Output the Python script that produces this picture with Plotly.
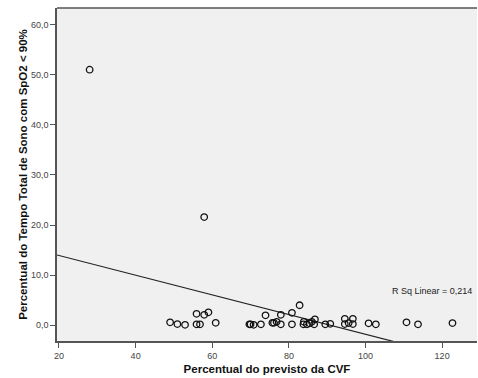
import numpy as np
import plotly.graph_objects as go

# Percent of predicted FVC (x) vs percent of total sleep time with SpO2 < 90% (y)
cvf_pct = [28.0, 49.0, 50.9, 52.9, 55.9, 55.9, 56.8, 57.9, 57.9, 59.0,
           60.9, 69.7, 70.0, 70.8, 72.7, 73.9, 75.7, 76.1, 76.8, 77.9,
           77.9, 80.8, 80.8, 82.8, 83.8, 83.9, 84.7, 85.4, 86.0, 86.6,
           86.8, 89.5, 90.8, 94.6, 94.6, 95.6, 96.7, 96.7, 100.8, 102.7,
           110.7, 113.7, 122.7]
spo2_pct = [51.0, 0.6, 0.25, 0.1, 2.3, 0.2, 0.2, 2.1, 21.6, 2.6,
            0.5, 0.2, 0.2, 0.1, 0.2, 2.0, 0.5, 0.5, 0.7, 2.1,
            0.2, 0.2, 2.5, 4.0, 0.2, 0.7, 0.2, 0.4, 0.7, 0.2,
            1.2, 0.2, 0.3, 1.3, 0.25, 0.45, 1.3, 0.25, 0.4, 0.2,
            0.6, 0.2, 0.45]

x_ticks = [20, 40, 60, 80, 100, 120]
y_ticks = [0, 10, 20, 30, 40, 50, 60]
x_range = [19.48, 129.1]
y_range = [-3.13, 63.3]
r_sq_label = "R Sq Linear = 0,214"

# least-squares fit line
slope, intercept = np.polyfit(cvf_pct, spo2_pct, 1)
fit_x = np.array(x_range)
fit_y = intercept + slope * fit_x

fig = go.Figure()
fig.add_trace(go.Scatter(
    x=fit_x, y=fit_y, mode="lines",
    line=dict(color="#222222", width=1.2),
    hoverinfo="skip", showlegend=False,
))
fig.add_trace(go.Scatter(
    x=cvf_pct, y=spo2_pct, mode="markers",
    marker=dict(symbol="circle-open", size=6.5,
                color="#111111", line=dict(color="#111111", width=1.3)),
    showlegend=False,
))

fig.add_annotation(
    x=117.4, y=6.8, xref="x", yref="y", text=r_sq_label, showarrow=False,
    font=dict(family="Liberation Sans, Arial, sans-serif", size=9, color="#222222"),
)

axis_common = dict(
    showgrid=False, zeroline=False, showline=True, linecolor="#555555",
    linewidth=1.5, ticks="outside", ticklen=5, tickwidth=1.2, tickcolor="#555555",
    tickfont=dict(family="Liberation Sans, Arial, sans-serif", size=9, color="#444444"),
)

fig.update_layout(
    width=478, height=378,
    margin=dict(l=57, r=1, t=8, b=37),
    paper_bgcolor="white", plot_bgcolor="#f0f0f0",
    separators=",.",
    xaxis=dict(range=x_range, tickvals=x_ticks, mirror=False,
               title=dict(text="Percentual do previsto da CVF", standoff=5,
                          font=dict(family="Liberation Sans, Arial, sans-serif",
                                    size=11.5, color="#111111", weight="bold")),
               **axis_common),
    yaxis=dict(range=y_range, tickvals=y_ticks, tickformat=".1f",
               title=dict(text="Percentual do Tempo Total de Sono com SpO2 < 90%", standoff=1,
                          font=dict(family="Liberation Sans, Arial, sans-serif",
                                    size=11.5, color="#111111", weight="bold")),
               **axis_common),
    shapes=[dict(type="line", xref="paper", yref="paper", x0=0, x1=1, y0=1, y1=1,
                 line=dict(color="#555555", width=1.5))],
)

fig.write_html("out.html")
